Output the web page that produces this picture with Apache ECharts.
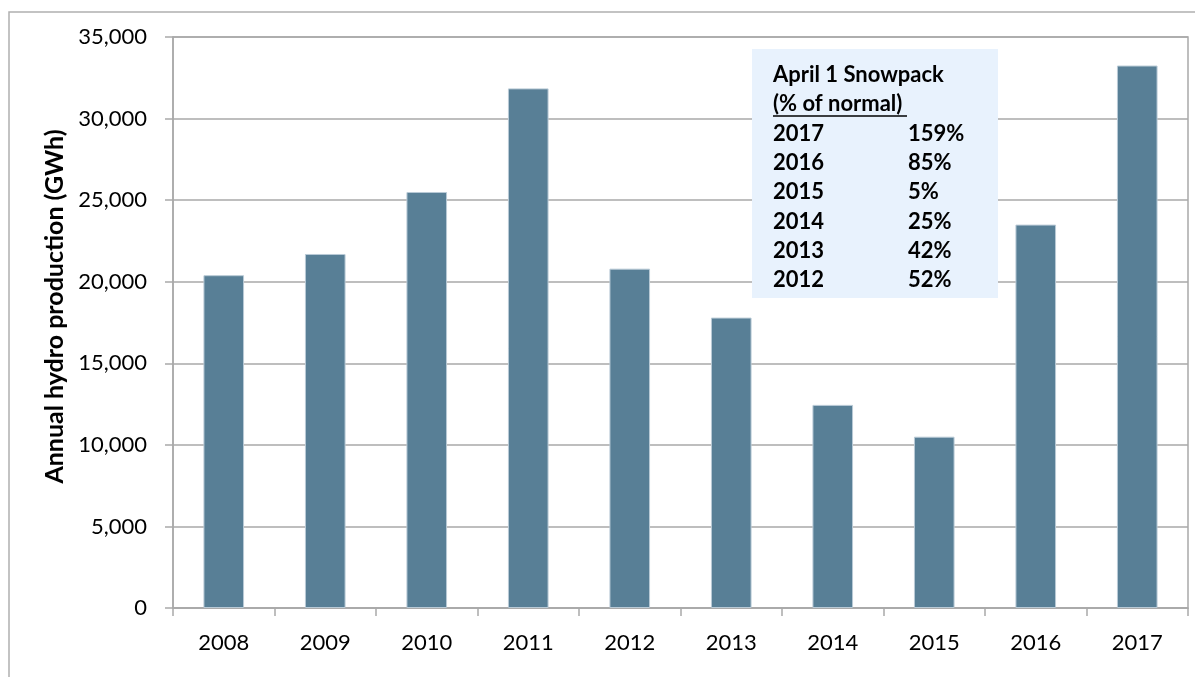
<!DOCTYPE html>
<html>
<head>
<meta charset="utf-8">
<script src="https://cdn.jsdelivr.net/npm/echarts@6/dist/echarts.min.js"></script>
<style>
  html, body { margin: 0; padding: 0; background: #fff; }
  #chart { width: 1195px; height: 677px; }
</style>
</head>
<body>
<div id="chart"></div>
<script>
// hydro production by year (GWh)
const years = ['2008', '2009', '2010', '2011', '2012', '2013', '2014', '2015', '2016', '2017'];
const hydroGWh = [20400, 21700, 25500, 31850, 20800, 17800, 12450, 10500, 23500, 33250];

// snowpack box
const snowYears = ['2017', '2016', '2015', '2014', '2013', '2012'];
const snowPct = ['159%', '85%', '5%', '25%', '42%', '52%'];

const FONT = 'Lato, "Open Sans", sans-serif';
const BOX_FONT = 'bold 22px ' + FONT;
const GRID_GRAY = '#a9a9a9';

const chart = echarts.init(document.getElementById('chart'));

// text lines for the box, centred on rows 29.3px apart
const rowY = i => 75 + i * 29.3;
const boxLines = [
  { type: 'text', x: 773, y: rowY(0), style: { text: 'April 1 Snowpack', font: BOX_FONT, fill: '#000', verticalAlign: 'middle' } },
  { type: 'text', x: 773, y: rowY(1), style: { text: '(% of normal)', font: BOX_FONT, fill: '#000', verticalAlign: 'middle' } },
  { type: 'line', shape: { x1: 773, y1: 116, x2: 907, y2: 116 }, style: { stroke: '#000', lineWidth: 1.5 } }
];
snowYears.forEach((y, i) => {
  boxLines.push({ type: 'text', x: 773, y: rowY(i + 2), style: { text: y, font: BOX_FONT, fill: '#000', verticalAlign: 'middle' } });
  boxLines.push({ type: 'text', x: 908, y: rowY(i + 2), style: { text: snowPct[i], font: BOX_FONT, fill: '#000', verticalAlign: 'middle' } });
});

const option = {
  animation: false,
  backgroundColor: '#fff',
  textStyle: { fontFamily: FONT },
  grid: {
    left: 173,
    right: 7,
    top: 37,
    bottom: 69,
    show: true,
    borderColor: GRID_GRAY,
    borderWidth: 1.5
  },
  xAxis: {
    type: 'category',
    data: years,
    axisLine: { lineStyle: { color: GRID_GRAY, width: 1.5 } },
    axisTick: { show: true, length: 8, lineStyle: { color: GRID_GRAY, width: 1.5 } },
    axisLabel: { color: '#000', fontSize: 22, margin: 24, fontFamily: FONT }
  },
  yAxis: {
    type: 'value',
    min: 0,
    max: 35000,
    interval: 5000,
    name: 'Annual hydro production (GWh)',
    nameLocation: 'middle',
    nameGap: 106,
    nameTextStyle: { color: '#000', fontSize: 25, fontWeight: 'bold', fontFamily: FONT, padding: [0, 0, 0, 32] },
    axisLine: { show: true, lineStyle: { color: GRID_GRAY, width: 1.5 } },
    axisTick: { show: true, length: 8, lineStyle: { color: GRID_GRAY, width: 1.5 } },
    axisLabel: {
      color: '#000',
      fontSize: 22,
      margin: 26,
      fontFamily: FONT,
      formatter: v => v.toLocaleString('en-US')
    },
    splitLine: { lineStyle: { color: GRID_GRAY, width: 1.5 } }
  },
  series: [
    {
      type: 'bar',
      data: hydroGWh,
      barWidth: '40%',
      itemStyle: { color: '#587f96', borderColor: '#b9cad6', borderWidth: 1 }
    }
  ],
  graphic: [
    // outer chart border
    { type: 'rect', shape: { x: 9, y: 12, width: 1200, height: 700 }, style: { fill: 'none', stroke: '#b0b0b0', lineWidth: 1.5 }, z: 0 },
    // snowpack note box
    { type: 'rect', shape: { x: 752, y: 49, width: 246, height: 249 }, style: { fill: '#e8f2fd', stroke: 'none' }, z: 10 },
    ...boxLines.map(el => Object.assign(el, { z: 11 }))
  ]
};

chart.setOption(option);
window.addEventListener('resize', () => chart.resize());
</script>
</body>
</html>
